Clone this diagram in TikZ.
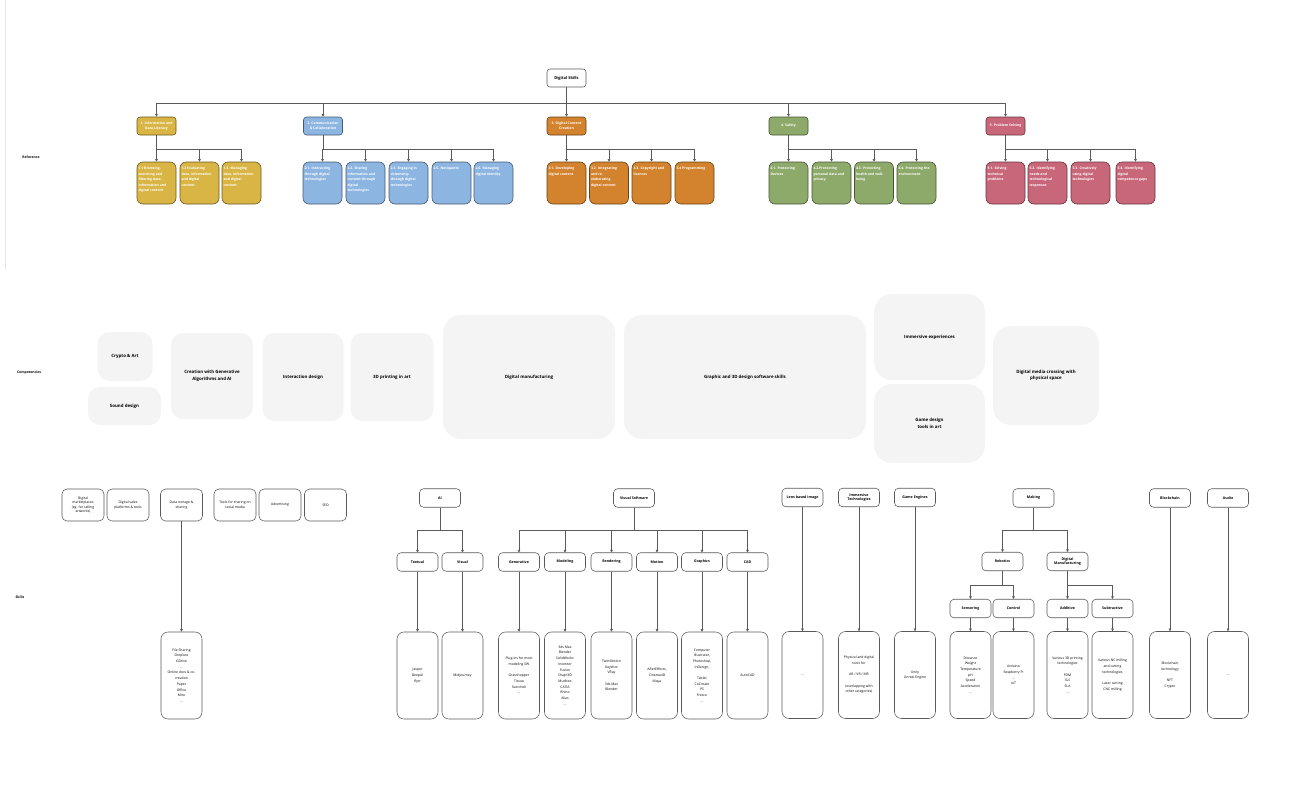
\documentclass[tikz,border=0pt]{standalone}
\usepackage{fontspec}
\setmainfont{Open Sans}
\usetikzlibrary{arrows.meta,positioning,calc}
\definecolor{InfoYellow}{HTML}{D8B544}
\definecolor{CommBlue}{HTML}{8CB5E1}
\definecolor{CreaOrange}{HTML}{D3832E}
\definecolor{SafeGreen}{HTML}{8DAA6A}
\definecolor{SolvePink}{HTML}{C9677A}
\definecolor{CompGrey}{HTML}{F4F4F4}
\definecolor{LineGrey}{HTML}{5A5A5A}
\definecolor{FrameGrey}{HTML}{E6E6E6}
\newcommand{\subtxt}[1]{\parbox[c][39pt][t]{36pt}{\raggedright\vspace*{3.5pt}#1}}

\begin{document}
\begin{tikzpicture}[x=1pt, y=-1pt, >={Triangle[length=2.6pt,width=2.6pt]},
  link/.style={draw=LineGrey, line width=0.55pt},
  sidelabel/.style={font=\fontsize{3.4}{4.2}\selectfont\bfseries},
  topbox/.style={draw=LineGrey, fill=white, line width=0.55pt, rounded corners=3pt, minimum width=39pt, minimum height=18pt, inner sep=1pt, font=\fontsize{4}{5}\selectfont\bfseries},
  catbox/.style={draw=#1!50!black, fill=#1, line width=0.6pt, rounded corners=3pt, minimum width=39pt, minimum height=18pt, inner sep=1pt, text=white, align=center, font=\fontsize{3.4}{4.6}\selectfont\bfseries},
  subbox/.style={draw=#1!50!black, fill=#1, line width=0.6pt, rounded corners=6pt, inner xsep=1.5pt, inner ysep=1.5pt, text=white, font=\fontsize{3.4}{5.5}\selectfont\bfseries},
  compbox/.style={fill=CompGrey, rounded corners=12pt, inner sep=1pt, align=center, font=\fontsize{4.4}{6.6}\selectfont\bfseries},
  bigbox/.style={compbox, rounded corners=18pt},
  groupbox/.style={draw=LineGrey, fill=white, line width=0.55pt, rounded corners=5pt, minimum width=42pt, minimum height=32pt, inner sep=1pt, align=center, font=\fontsize{3.4}{4.6}\selectfont},
  headbox/.style={draw=LineGrey, fill=white, line width=0.55pt, rounded corners=4pt, minimum width=41pt, minimum height=18.5pt, inner sep=1pt, align=center, font=\fontsize{3.6}{4.8}\selectfont\bfseries},
  tallbox/.style={draw=LineGrey, fill=white, line width=0.55pt, rounded corners=7pt, minimum width=41pt, minimum height=87pt, inner sep=1pt, align=center, font=\fontsize{3.4}{5.7}\selectfont}]
\useasboundingbox (0,0) rectangle (1297,790);
\draw[FrameGrey, line width=0.5pt] (5,0) -- (5,270);

% reference frame
\node[sidelabel] (lref) at (31,157) {Reference};
\node[topbox] (ds) at (566.5,78) {Digital Skills};
\node[catbox=InfoYellow] (c1) at (156.5,126) {1. Information and\\Data Literacy};
\node[catbox=CommBlue] (c2) at (323,126) {2. Communication\\\& Collaboration};
\node[catbox=CreaOrange] (c3) at (566.5,126) {3. Digital Content\\Creation};
\node[catbox=SafeGreen] (c4) at (788.5,126) {4. Safety};
\node[catbox=SolvePink] (c5) at (1005.5,126) {5. Problem Solving};
\foreach \c in {c1,c2,c3,c4,c5}
  \draw[link,->] (ds.south) -- ++(0,15.5) -| (\c.north);

\node[subbox=InfoYellow] (s11) at (156.5,183) {\subtxt{1.1 Browsing,\\searching and\\filtering data,\\information and\\digital content}};
\node[subbox=InfoYellow] (s12) at (199.5,183) {\subtxt{1.2 Evaluating\\data, information\\and digital\\content}};
\node[subbox=InfoYellow] (s13) at (241.5,183) {\subtxt{1.3. Managing\\data, information\\and digital\\content}};
\node[subbox=CommBlue] (s21) at (322.5,183) {\subtxt{2.1. Interacting\\through digital\\technologies}};
\node[subbox=CommBlue] (s22) at (365.5,183) {\subtxt{2.2. Sharing\\information and\\content through\\digital\\technologies}};
\node[subbox=CommBlue] (s23) at (408.5,183) {\subtxt{2.3. Engaging in\\citizenship\\through digital\\technologies}};
\node[subbox=CommBlue] (s25) at (451.5,183) {\subtxt{2.5. Netiquette}};
\node[subbox=CommBlue] (s26) at (493.5,183) {\subtxt{2.6. Managing\\digital identity}};
\node[subbox=CreaOrange] (s31) at (566.5,183) {\subtxt{3.1. Developing\\digital content}};
\node[subbox=CreaOrange] (s32) at (609,183) {\subtxt{3.2. Integrating\\and re-\\elaborating\\digital content}};
\node[subbox=CreaOrange] (s33) at (651.5,183) {\subtxt{3.3. Copyright and\\licences}};
\node[subbox=CreaOrange] (s34) at (694.5,183) {\subtxt{3.4 Programming}};
\node[subbox=SafeGreen] (s41) at (788.5,183) {\subtxt{4.1. Protecting\\Devices}};
\node[subbox=SafeGreen] (s42) at (831.5,183) {\subtxt{4.2.Protecting\\personal data and\\privacy}};
\node[subbox=SafeGreen] (s43) at (874,183) {\subtxt{4.3. Protecting\\health and well-\\being}};
\node[subbox=SafeGreen] (s44) at (916.5,183) {\subtxt{4.4. Protecting the\\environment}};
\node[subbox=SolvePink] (s51) at (1005.5,183) {\subtxt{5.1. Solving\\technical\\problems}};
\node[subbox=SolvePink] (s52) at (1047.5,183) {\subtxt{5.2. Identifying\\needs and\\technological\\responses}};
\node[subbox=SolvePink] (s53) at (1090.5,183) {\subtxt{5.3. Creatively\\using digital\\technologies}};
\node[subbox=SolvePink] (s54) at (1135.5,183) {\subtxt{5.4. Identifying\\digital\\competence gaps}};
\foreach \p/\s in {c1/s11,c1/s12,c1/s13,c2/s21,c2/s22,c2/s23,c2/s25,c2/s26,c3/s31,c3/s32,c3/s33,c3/s34,c4/s41,c4/s42,c4/s43,c4/s44,c5/s51,c5/s52,c5/s53,c5/s54}
  \draw[link,->] (\p.south) -- ++(0,14) -| (\s.north);

% competencies
\node[sidelabel] (lcomp) at (29,373) {Competencies};
\node[compbox, minimum width=55pt, minimum height=49pt] (crypto) at (125,356.5) {Crypto \& Art};
\node[compbox, minimum width=73pt, minimum height=38pt] (sound) at (124.5,406) {Sound design};
\node[compbox, minimum width=82pt, minimum height=86pt] (genai) at (212,376) {Creation with Generative\\Algorithms and AI};
\node[compbox, minimum width=81pt, minimum height=88pt] (interact) at (303,377) {Interaction design};
\node[compbox, minimum width=83pt, minimum height=88pt] (print) at (392,377) {3D printing in art};
\node[bigbox, minimum width=172pt, minimum height=124pt] (digman) at (529,377) {Digital manufacturing};
\node[bigbox, minimum width=242pt, minimum height=124pt] (graphic) at (745,377) {Graphic and 3D design software skills};
\node[bigbox, minimum width=111pt, minimum height=86pt] (immexp) at (929.5,337) {Immersive experiences};
\node[bigbox, minimum width=111pt, minimum height=79pt] (gamedes) at (929.5,423.5) {Game design\\tools in art};
\node[bigbox, minimum width=106pt, minimum height=99pt] (crossing) at (1046,375.5) {Digital media crossing with\\physical space};

% skills
\node[sidelabel] (lskill) at (20,597) {Skills};
\node[groupbox] (market) at (83,505) {Digital\\marketplaces\\(eg. for selling\\artworks)};
\node[groupbox] (sales) at (128,505) {Digital sales\\platforms \& tools};
\node[groupbox] (storage) at (181.5,505) {Data storage \&\\sharing};
\node[groupbox] (social) at (235,505) {Tools for sharing on\\social media};
\node[groupbox] (advert) at (280,505) {Advertising};
\node[groupbox] (seo) at (325.5,505) {SEO};
\node[tallbox] (files) at (181.5,675.5) {File Sharing\\Dropbox\\GDrive\\...\\Online docs \& co-\\creation\\Paper\\Office\\Miro\\...};
\draw[link,->] (storage.south) -- (files.north);

\node[headbox] (ai) at (440,498) {AI};
\node[headbox] (textual) at (417.5,562) {Textual};
\node[headbox] (visual) at (462.5,562) {Visual};
\node[tallbox] (textlist) at (417.5,675.5) {Jasper\\DeepAI\\Rytr};
\node[tallbox] (vislist) at (462.5,675.5) {Midjourney};
\foreach \s in {textual,visual}
  \draw[link,->] (ai.south) -- ++(0,23) -| (\s.north);
\draw[link,->] (textual.south) -- (textlist.north);
\draw[link,->] (visual.south) -- (vislist.north);

\node[headbox] (vsoft) at (634,498) {Visual Software};
\node[headbox] (gener) at (519,562) {Generative};
\node[headbox] (model) at (565,562) {Modeling};
\node[headbox] (render) at (611.5,562) {Rendering};
\node[headbox] (motion) at (657,562) {Motion};
\node[headbox] (graph) at (702,562) {Graphics};
\node[headbox] (cad) at (747.5,562) {CAD};
\node[tallbox] (generlist) at (519,675.5) {Plug-ins for most\\modeling SW\\[5.7pt]Grasshopper\\Tissue\\Sverchok\\...};
\node[tallbox] (modellist) at (565,675.5) {3ds Max\\Blender\\SolidWorks\\Inventor\\Fusion\\Shapr3D\\Mudbox\\CATIA\\Rhino\\Alias\\...};
\node[tallbox] (renderlist) at (611.5,675.5) {TwinMotion\\Keyshot\\VRay\\[5.7pt]3ds Max\\Blender};
\node[tallbox] (motionlist) at (657,675.5) {AfterEffects,\\Cinema4D\\Maya};
\node[tallbox] (graphlist) at (702,675.5) {Computer\\Illustrator,\\Photoshop,\\InDesign,\\[5.7pt]Tablet\\CoCreate\\PS\\Fresco\\...};
\node[tallbox] (cadlist) at (747.5,675.5) {AutoCAD};
\foreach \s/\l in {gener/generlist,model/modellist,render/renderlist,motion/motionlist,graph/graphlist,cad/cadlist}{
  \draw[link,->] (vsoft.south) -- ++(0,23) -| (\s.north);
  \draw[link,->] (\s.south) -- (\l.north);
}

\node[headbox] (lens) at (802.5,497.5) {Lens based image};
\node[headbox] (immtech) at (859,497.5) {Immersive\\Technologies};
\node[headbox] (engines) at (915,497.5) {Game Engines};
\node[tallbox] (lenslist) at (802.5,675) {...};
\node[tallbox] (immlist) at (859,675) {Physical and digital\\tools for\\[5.7pt]AR / VR / MR\\[5.7pt](overlapping with\\other categories)};
\node[tallbox] (enginelist) at (915,675) {Unity\\Unreal Engine};
\draw[link,->] (lens.south) -- (lenslist.north);
\draw[link,->] (immtech.south) -- (immlist.north);
\draw[link,->] (engines.south) -- (enginelist.north);

\node[headbox] (making) at (1033.5,498) {Making};
\node[headbox] (robot) at (1002.5,561.5) {Robotics};
\node[headbox] (digmanu) at (1067.5,561.5) {Digital\\Manufacturing};
\node[headbox] (sensor) at (970.5,608.5) {Sensoring};
\node[headbox] (control) at (1013.5,608.5) {Control};
\node[headbox] (additive) at (1067.5,608.5) {Additive};
\node[headbox] (subtract) at (1112.5,608.5) {Subtractive};
\node[tallbox] (sensorlist) at (970.5,675) {Distance\\Weight\\Temperature\\pH\\Speed\\Acceleration\\...};
\node[tallbox] (controllist) at (1013.5,675) {Arduino\\Raspberry Pi\\...\\IoT};
\node[tallbox] (addlist) at (1067.5,675) {Various 3D printing\\technologies\\[5.7pt]FDM\\SLS\\SLA\\...};
\node[tallbox] (sublist) at (1112.5,675) {Various NC milling\\and cutting\\technologies\\[5.7pt]Laser cutting\\CNC milling};
\foreach \s in {robot,digmanu}
  \draw[link,->] (making.south) -- ++(0,23) -| (\s.north);
\foreach \s in {sensor,control}
  \draw[link,->] (robot.south) -- ++(0,14) -| (\s.north);
\foreach \s in {additive,subtract}
  \draw[link,->] (digmanu.south) -- ++(0,14) -| (\s.north);
\foreach \s/\l in {sensor/sensorlist,control/controllist,additive/addlist,subtract/sublist}
  \draw[link,->] (\s.south) -- (\l.north);

\node[headbox] (block) at (1170,498) {Blockchain};
\node[headbox] (audio) at (1228,498) {Audio};
\node[tallbox] (blocklist) at (1170,675) {Blockchain\\technology\\[5.7pt]NFT\\Crypto};
\node[tallbox] (audiolist) at (1228,675) {...};
\draw[link,->] (block.south) -- (blocklist.north);
\draw[link,->] (audio.south) -- (audiolist.north);
\end{tikzpicture}
\end{document}
